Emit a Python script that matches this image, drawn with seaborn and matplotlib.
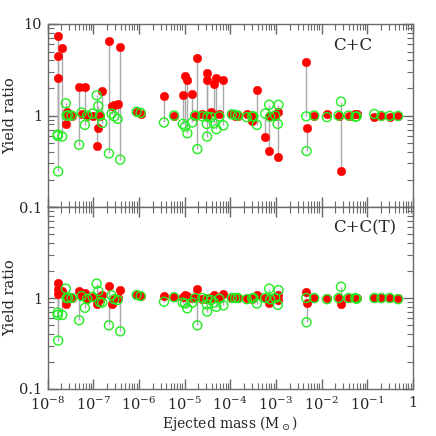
import numpy as np
import pandas as pd
import matplotlib
matplotlib.use("Agg")
import matplotlib.pyplot as plt
import matplotlib.ticker as mticker
import seaborn as sns

# ---- data ----
mass = [1.66e-8, 1.71e-8, 1.68e-8, 2.09e-8, 2.52e-8, 2.61e-8, 2.83e-8, 3.36e-8,
        4.93e-8, 5.57e-8, 6.58e-8, 7.39e-8, 9.7e-8, 1.19e-7, 1.29e-7, 1.40e-7,
        1.58e-7, 2.21e-7, 2.53e-7, 2.89e-7, 3.43e-7, 3.91e-7, 8.95e-7, 1.09e-6,
        3.55e-6, 5.88e-6, 9.13e-6, 1.03e-5, 1.15e-5, 1.48e-5, 1.70e-5, 1.91e-5,
        2.46e-5, 3.07e-5, 3.12e-5, 3.17e-5, 3.81e-5, 4.43e-5, 4.98e-5, 5.79e-5,
        7.09e-5, 1.08e-4, 1.28e-4, 1.47e-4, 2.31e-4, 3.02e-4, 3.23e-4, 3.83e-4,
        5.82e-4, 7.13e-4, 7.5e-4, 9.66e-4, 1.14e-3, 1.10e-3, 4.62e-3, 4.70e-3,
        6.91e-3, 1.31e-2, 2.36e-2, 2.66e-2, 3.91e-2, 5.48e-2, 5.85e-2, 1.43e-1,
        2.04e-1, 3.10e-1, 4.73e-1]
# C+C panel: red (filled) and green (open) ratios
cc_red = [4.5, 7.4, 2.6, 5.5, 0.80, 1.09, 1.02, 1.0,
          2.05, 1.05, 2.05, 0.98, 1.0, 0.47, 0.74, 0.99,
          1.87, 6.5, 1.27, 1.30, 1.34, 5.55, 1.08, 1.05,
          1.63, 1.0, 1.66, 2.7, 2.43, 1.70, 1.0, 4.2,
          1.05, 2.9, 2.43, 1.0, 1.10, 2.23, 2.57, 1.05,
          2.43, 1.03, 1.0, 1.0, 1.04, 0.88, 1.0, 1.88,
          0.58, 0.405, 1.0, 1.0, 0.35, 1.10, 3.8, 0.74,
          1.0, 1.05, 1.0, 0.25, 1.0, 1.05, 1.03, 0.96,
          1.0, 0.97, 1.0]
cc_green = [0.60, 0.245, 0.62, 0.59, 1.36, 1.0, 1.0, 1.0,
            0.48, 1.08, 0.79, 1.0, 1.05, 1.66, 1.27, 1.0,
            0.83, 0.385, 1.05, 0.98, 0.92, 0.33, 1.10, 1.07,
            0.84, 1.0, 0.81, 0.76, 0.64, 0.84, 1.0, 0.43,
            0.98, 0.81, 0.59, 0.97, 0.96, 0.82, 0.71, 0.98,
            0.78, 1.03, 1.02, 1.0, 0.96, 0.98, 0.98, 0.79,
            1.05, 1.31, 0.97, 1.0, 1.31, 0.81, 0.98, 0.41,
            1.0, 0.96, 1.0, 1.42, 1.0, 0.97, 0.98, 1.04,
            0.99, 0.99, 0.99]
# C+C(T) panel
cct_red = [1.25, 1.47, 1.12, 1.20, 0.87, 1.0, 1.0, 1.0,
           1.19, 1.05, 1.14, 0.97, 1.03, 0.87, 1.0, 0.97,
           1.07, 1.35, 0.87, 0.98, 1.0, 1.22, 1.08, 1.06,
           1.05, 1.02, 1.02, 1.07, 1.05, 1.0, 1.0, 1.27,
           0.98, 1.0, 1.0, 1.0, 0.99, 1.07, 1.0, 0.99,
           1.12, 1.0, 1.0, 1.0, 0.99, 0.98, 1.0, 1.07,
           0.99, 0.89, 1.0, 1.0, 1.07, 0.95, 1.16, 0.89,
           1.0, 1.0, 1.0, 0.87, 1.0, 1.0, 1.0, 1.0,
           1.0, 1.0, 1.0]
cct_green = [0.69, 0.34, 0.65, 0.65, 1.27, 1.0, 1.0, 1.0,
             0.57, 1.05, 0.78, 0.98, 1.03, 1.44, 1.19, 0.90,
             0.89, 0.50, 1.07, 0.97, 0.95, 0.43, 1.08, 1.05,
             0.91, 1.02, 0.89, 0.87, 0.77, 0.89, 1.0, 0.50,
             1.0, 0.85, 0.71, 0.97, 0.95, 0.89, 0.80, 0.98,
             0.83, 1.0, 1.0, 1.0, 0.97, 0.99, 1.0, 0.87,
             1.0, 1.27, 0.97, 1.0, 1.22, 0.84, 1.0, 0.54,
             1.0, 0.97, 1.0, 1.33, 1.0, 1.0, 0.98, 1.0,
             1.0, 1.0, 0.97]

panel_labels = ["C+C", "C+C(T)"]
xtick_vals = [1e-8, 1e-7, 1e-6, 1e-5, 1e-4, 1e-3, 1e-2, 1e-1, 1]

# ---- style ----
sns.set_style("ticks")
plt.rcParams["font.family"] = ["DejaVu Serif"]
plt.rcParams["mathtext.fontset"] = "dejavuserif"
plt.rcParams["font.size"] = 10

fig = plt.figure(figsize=(4.36, 4.36), dpi=100)
left, right = 0.109, 0.947
ax_top = fig.add_axes([left, 0.525, right - left, 0.945 - 0.525])
ax_bot = fig.add_axes([left, 0.108, right - left, 0.525 - 0.108], sharex=ax_top)

red = "#ff0000"
green = "#22ee22"
linec = "#aaaaaa"
spinec = "#6a6a6a"

def draw(ax, r, g, label):
    df = pd.DataFrame({"mass": mass, "red": r, "green": g})
    lo = np.minimum(df["red"], df["green"])
    hi = np.maximum(df["red"], df["green"])
    ax.vlines(df["mass"], lo, hi, colors=linec, linewidth=1.0, zorder=1)
    sns.scatterplot(data=df, x="mass", y="red", ax=ax, color=red, s=38,
                    edgecolor=red, linewidth=0.3, zorder=2, legend=False)
    sns.scatterplot(data=df, x="mass", y="green", ax=ax, facecolor="none",
                    edgecolor=green, s=42, linewidth=1.0, zorder=3, legend=False)
    ax.set_xscale("log")
    ax.set_yscale("log")
    ax.set_xlim(1e-8, 1)
    ax.set_ylim(0.1, 10)
    ax.set_ylabel("Yield ratio", fontsize=10.5)
    ax.yaxis.set_label_coords(-0.082, 0.5)
    ax.set_xlabel("")
    ax.text(0.782, 0.885, label, transform=ax.transAxes,
            ha="left", va="center", fontsize=12)
    for sp in ax.spines.values():
        sp.set_color(spinec)
        sp.set_linewidth(1.0)
    ax.xaxis.set_major_locator(mticker.FixedLocator(xtick_vals))
    ax.xaxis.set_minor_locator(mticker.LogLocator(base=10, subs=np.arange(2, 10), numticks=20))
    ax.yaxis.set_major_locator(mticker.FixedLocator([0.1, 1, 10]))
    ax.yaxis.set_minor_locator(mticker.LogLocator(base=10, subs=np.arange(2, 10), numticks=20))
    ax.tick_params(which="both", direction="in", top=True, right=True,
                   color=spinec, labelsize=10.5)
    ax.tick_params(which="major", length=7, width=1.0, pad=4)
    ax.tick_params(which="minor", length=4, width=0.8)

draw(ax_top, cc_red, cc_green, panel_labels[0])
draw(ax_bot, cct_red, cct_green, panel_labels[1])

def yfmt(v, pos):
    if abs(v - 0.1) < 1e-9:
        return "0.1"
    if abs(v - 1) < 1e-9:
        return "1"
    return "10"

def xfmt(v, pos):
    if abs(v - 1) < 1e-12:
        return "1"
    e = int(round(np.log10(v)))
    return r"$10^{%d}$" % e

ax_top.yaxis.set_major_formatter(mticker.FuncFormatter(yfmt))
ax_bot.yaxis.set_major_formatter(
    mticker.FuncFormatter(lambda v, p: "" if v > 5 else yfmt(v, p)))
ax_top.tick_params(labelbottom=False)
ax_bot.xaxis.set_major_formatter(mticker.FuncFormatter(xfmt))
ax_bot.tick_params(axis="x", pad=5)
ax_bot.set_xlabel(r"Ejected mass (M$_\odot$)", fontsize=10)
ax_bot.xaxis.set_label_coords(0.5, -0.14)

fig.savefig("out.png", dpi=100)
